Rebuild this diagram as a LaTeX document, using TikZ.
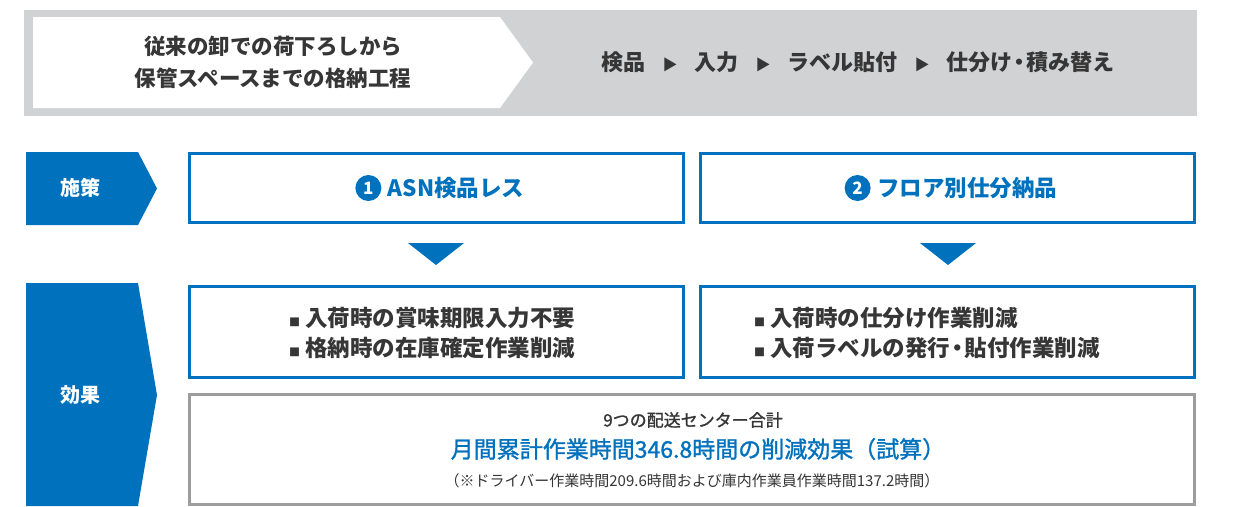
\documentclass[tikz,border=0pt]{standalone}
\usepackage{fontspec}
\setmainfont{Noto Sans CJK JP}
\newfontfamily\medfont{Noto Sans CJK JP}[FakeBold=1.3]
\usetikzlibrary{positioning}
\definecolor{cblue}{HTML}{0071BC}
\definecolor{bandgray}{HTML}{D1D2D4}
\definecolor{txt}{HTML}{363636}
\definecolor{boxgray}{HTML}{9D9D9D}
\newcommand\myfs[2]{\fontsize{#1}{#2}\selectfont}
\newcommand\hdot{\hspace{-4pt}・\hspace{-4pt}}
\begin{document}
\begin{tikzpicture}[x=1pt,y=-1pt,
  bluebox/.style={draw=cblue, line width=3pt, fill=white, inner sep=0pt},
  graybox/.style={draw=boxgray, line width=3pt, fill=white, inner sep=0pt},
  title/.style={text=cblue, font=\myfs{22.5}{24}\bfseries, inner sep=0pt},
  numcirc/.style={circle, fill=cblue, text=white, minimum size=26pt, inner sep=0pt, font=\myfs{17}{17}\bfseries},
  label/.style={text=white, font=\myfs{20}{22}\bfseries, inner sep=0pt},
  bullets/.style={text=txt, font=\myfs{22.5}{30}\bfseries, align=left, inner sep=0pt},
  tri/.style={fill=cblue}]
\useasboundingbox (0,0) rectangle (1233,506);
% header band
\fill[bandgray] (24,10) rectangle (1197,116);
\fill[white] (33,17) -- (500,17) -- (533,62.5) -- (500,108) -- (33,108) -- cycle;
\node[text=txt, font=\myfs{21.5}{32}\bfseries, align=center, inner sep=0pt] (proc) at (273,62) {従来の卸での荷下ろしから\\保管スペースまでの格納工程};
\node[text=txt, font=\myfs{22}{24}\bfseries, inner sep=0pt] (steps) at (858,62)
  {検品\hspace{17pt}{\myfs{15}{15}▶}\hspace{17pt}入力\hspace{17pt}{\myfs{15}{15}▶}\hspace{17pt}ラベル貼付\hspace{17pt}{\myfs{15}{15}▶}\hspace{17pt}仕分け\hdot 積み替え};
% measures
\fill[cblue] (26,152) -- (138,152) -- (157,188.5) -- (138,225) -- (26,225) -- cycle;
\node[label] (shisaku) at (80,188) {施策};
\node[bluebox, minimum width=494pt, minimum height=69pt] (m1) at (436.5,188) {};
\node[bluebox, minimum width=494pt, minimum height=69pt] (m2) at (947.5,188) {};
\node[title] (t1) at (456,188) {ASN検品レス};
\node[numcirc, left=6pt of t1] (n1) {1};
\node[title] (t2) at (967,188) {フロア別仕分納品};
\node[numcirc, left=6pt of t2] (n2) {2};
% down triangles
\fill[tri] (408,243) -- (464,243) -- (436,265) -- cycle;
\fill[tri] (920,243) -- (976,243) -- (948,265) -- cycle;
% effects
\fill[cblue] (26,283) -- (138,283) -- (157,395) -- (138,506) -- (26,506) -- cycle;
\node[label] (kouka) at (80,395) {効果};
\node[bluebox, minimum width=494pt, minimum height=91pt] (e1) at (436.5,332) {};
\node[bluebox, minimum width=494pt, minimum height=91pt] (e2) at (947.5,332) {};
\node[bullets, anchor=west] (b1) at (289,333) {{\myfs{11}{11}■}\hspace{5pt}入荷時の賞味期限入力不要\\{\myfs{11}{11}■}\hspace{5pt}格納時の在庫確定作業削減};
\node[bullets, anchor=west] (b2) at (754,333) {{\myfs{11}{11}■}\hspace{5pt}入荷時の仕分け作業削減\\{\myfs{11}{11}■}\hspace{5pt}入荷ラベルの発行\hdot 貼付作業削減};
\node[graybox, minimum width=1005pt, minimum height=110pt] (total) at (692,449.5) {};
\node[text=txt, font=\myfs{17}{20}\medfont, inner sep=0pt] (tot1) at (693,420) {9つの配送センター合計};
\node[text=cblue, font=\myfs{23}{26}\medfont, inner sep=0pt] (tot2) at (698,449) {月間累計作業時間346.8時間の削減効果（試算）};
\node[text=txt, font=\myfs{15}{16}, inner sep=0pt] (tot3) at (692,481) {（※ドライバー作業時間209.6時間および庫内作業員作業時間137.2時間）};
\end{tikzpicture}
\end{document}
